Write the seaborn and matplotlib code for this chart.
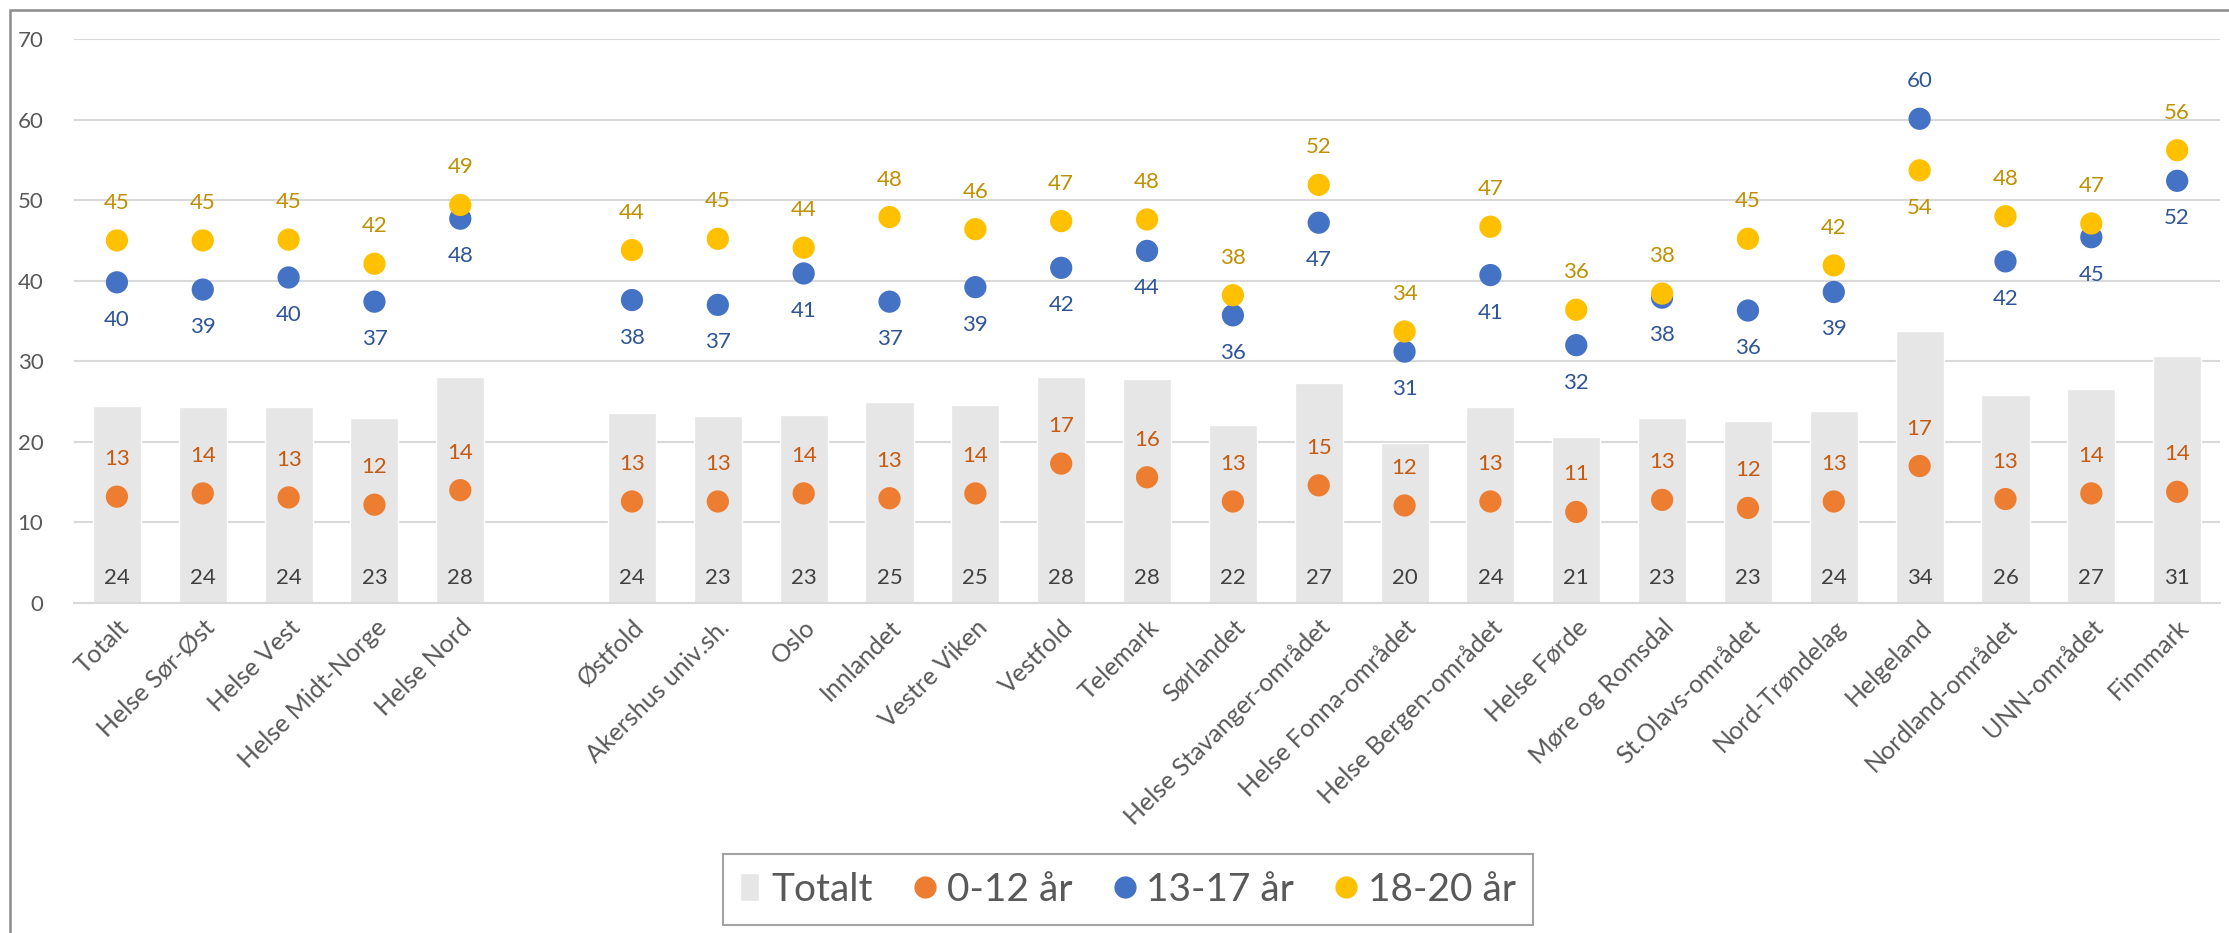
import numpy as np
import pandas as pd
import seaborn as sns
import matplotlib.pyplot as plt
from matplotlib.patches import Rectangle

# data
regions = ["Totalt", "Helse Sør-Øst", "Helse Vest", "Helse Midt-Norge", "Helse Nord",
           "Østfold", "Akershus univ.sh.", "Oslo", "Innlandet", "Vestre Viken", "Vestfold",
           "Telemark", "Sørlandet", "Helse Stavanger-området", "Helse Fonna-området",
           "Helse Bergen-området", "Helse Førde", "Møre og Romsdal", "St.Olavs-området",
           "Nord-Trøndelag", "Helgeland", "Nordland-området", "UNN-området", "Finnmark"]
totalt = [24.4, 24.3, 24.3, 23.0, 28.0, 23.6, 23.2, 23.3, 24.9, 24.6, 28.0, 27.8,
          22.1, 27.3, 19.9, 24.3, 20.6, 23.0, 22.6, 23.8, 33.8, 25.8, 26.6, 30.6]
age_0_12 = [13.2, 13.6, 13.1, 12.2, 14.0, 12.6, 12.6, 13.6, 13.0, 13.6, 17.3, 15.6,
            12.6, 14.6, 12.1, 12.6, 11.3, 12.8, 11.8, 12.6, 17.0, 12.9, 13.6, 13.8]
age_13_17 = [39.8, 38.9, 40.4, 37.4, 47.7, 37.6, 37.0, 40.9, 37.4, 39.2, 41.6, 43.7,
             35.7, 47.2, 31.2, 40.7, 32.0, 37.9, 36.3, 38.6, 60.1, 42.4, 45.4, 52.4]
age_18_20 = [45.0, 45.0, 45.1, 42.1, 49.4, 43.8, 45.2, 44.1, 47.9, 46.4, 47.4, 47.6,
             38.2, 51.9, 33.7, 46.7, 36.4, 38.4, 45.2, 41.9, 53.7, 48.0, 47.1, 56.2]
groups = ["0-12 år", "13-17 år", "18-20 år"]

# empty slot between the health regions and the hospital areas
order = regions[:5] + [" "] + regions[5:]

dot_colors = ["#ED7D31", "#4472C4", "#FFC000"]
text_colors = ["#C55A11", "#2F5597", "#BF9000"]
bar_color = "#E6E6E6"
font = "Lato"

long = pd.DataFrame({
    "region": regions * 3,
    "group": np.repeat(groups, len(regions)),
    "value": age_0_12 + age_13_17 + age_18_20,
})

sns.set_style("white")
plt.rcParams["font.family"] = [font, "DejaVu Sans"]

fig = plt.figure(figsize=(22.29, 9.33), dpi=100)
ax = fig.add_axes([0.0332, 0.3537, 0.9628, 0.6045])

sns.barplot(x=regions, y=totalt, order=order, color=bar_color, width=0.56,
            errorbar=None, label="Totalt", ax=ax, zorder=2)
sns.stripplot(data=long, x="region", y="value", hue="group", order=order,
              hue_order=groups, palette=dot_colors, jitter=False, size=16,
              linewidth=0, ax=ax, zorder=3)

ax.set_ylim(0, 70)
ax.set_xlim(-0.5, len(order) - 0.5)
ax.set_yticks(range(0, 71, 10))
ax.yaxis.grid(True, color="#D9D9D9", linewidth=1.5)
ax.set_axisbelow(True)
for s in ["left", "right", "top"]:
    ax.spines[s].set_visible(False)
ax.spines["bottom"].set_color("#D9D9D9")
ax.spines["bottom"].set_linewidth(1.5)
ax.set_xlabel("")
ax.set_ylabel("")
ax.tick_params(axis="y", length=0, pad=22, labelsize=16, labelcolor="#595959")
ax.tick_params(axis="x", length=0, pad=9)
ax.set_xticks(range(len(order)))
ax.set_xticklabels(order, rotation=45, ha="right", rotation_mode="anchor",
                   fontsize=18, color="#595959")

# value labels
for i, reg in enumerate(regions):
    xi = order.index(reg)
    ax.annotate(f"{totalt[i]:.0f}", (xi, 0), xytext=(0, 18), textcoords="offset points",
                ha="center", va="center", fontsize=16, color="#404040", zorder=4)
    ax.annotate(f"{age_0_12[i]:.0f}", (xi, age_0_12[i]), xytext=(0, 27),
                textcoords="offset points", ha="center", va="center",
                fontsize=16, color=text_colors[0], zorder=4)
    # the higher of the two upper groups gets its label above, the other below
    b, y = age_13_17[i], age_18_20[i]
    sb, sy = (-1, 1) if y >= b else (1, -1)
    ax.annotate(f"{b:.0f}", (xi, b), xytext=(0, 27 * sb), textcoords="offset points",
                ha="center", va="center", fontsize=16, color=text_colors[1], zorder=4)
    ax.annotate(f"{y:.0f}", (xi, y), xytext=(0, 27 * sy), textcoords="offset points",
                ha="center", va="center", fontsize=16, color=text_colors[2], zorder=4)

handles, labels = ax.get_legend_handles_labels()
if ax.get_legend() is not None:
    ax.get_legend().remove()
k = labels.index("Totalt")
handles = [handles[k]] + handles[:k] + handles[k + 1:]
labels = [labels[k]] + labels[:k] + labels[k + 1:]
leg = fig.legend(handles, labels, loc="center", bbox_to_anchor=(0.506, 0.0465),
                 ncol=4, fontsize=28, frameon=True, fancybox=False,
                 edgecolor="#8C8C8C", handlelength=0.5, handletextpad=0.3,
                 columnspacing=1.1, borderpad=0.45, markerscale=1.0)
leg.get_frame().set_linewidth(1.5)
for t in leg.get_texts():
    t.set_color("#595959")

fig.patches.append(Rectangle((0.0045, -0.02), 1.2, 1.0093, transform=fig.transFigure,
                             fill=False, edgecolor="#8C8C8C", linewidth=1.8))

fig.savefig("out.png", dpi=100)
